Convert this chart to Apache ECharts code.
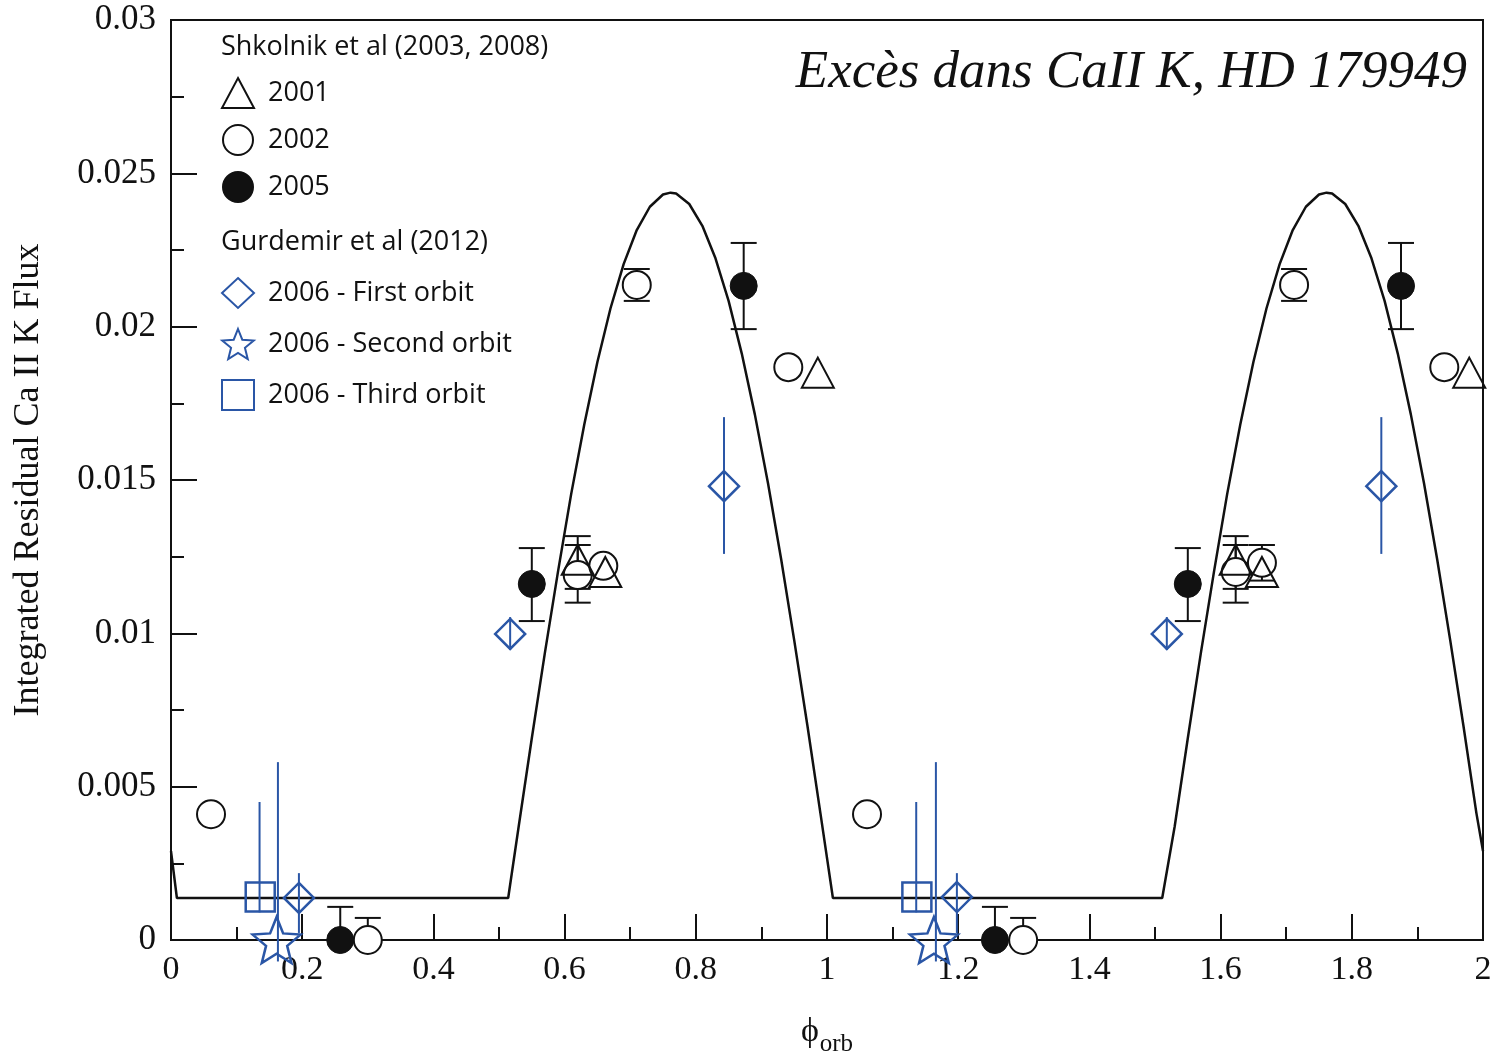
<!DOCTYPE html>
<html><head><meta charset="utf-8">
<script src="https://cdn.jsdelivr.net/npm/echarts@6/dist/echarts.min.js"></script>
<style>html,body{margin:0;padding:0;background:#fff}#c{width:1493px;height:1054px}</style>
</head><body><div id="c"></div>
<script>
// ---- data ----
const yTickValues = [0, 0.005, 0.01, 0.015, 0.02, 0.025, 0.03];
const xTickValues = [0, 0.2, 0.4, 0.6, 0.8, 1, 1.2, 1.4, 1.6, 1.8, 2];

// model curve [phase, flux]
const modelCurve = [
  [0,0.0029],[0.009,0.00137],[0.514,0.00137],
  [0.53,0.0037],[0.55,0.00658],[0.57,0.00937],[0.59,0.01202],[0.61,0.01454],[0.63,0.01681],
  [0.65,0.01885],[0.67,0.0206],[0.69,0.02204],[0.71,0.02315],[0.73,0.02391],[0.75,0.02431],
  [0.7615,0.02437],[0.77,0.02434],[0.79,0.024],[0.81,0.02329],[0.83,0.02223],[0.85,0.02084],
  [0.87,0.01913],[0.89,0.01714],[0.91,0.0149],[0.93,0.01243],[0.95,0.00978],[0.97,0.00701],
  [0.99,0.00413],[1.009,0.00137],[1.511,0.00137],
  [1.53,0.0037],[1.55,0.00658],[1.57,0.00937],[1.59,0.01202],[1.61,0.01454],[1.63,0.01681],
  [1.65,0.01885],[1.67,0.0206],[1.69,0.02204],[1.71,0.02315],[1.73,0.02391],[1.75,0.02431],
  [1.7615,0.02437],[1.77,0.02434],[1.79,0.024],[1.81,0.02329],[1.83,0.02223],[1.85,0.02084],
  [1.87,0.01913],[1.89,0.01714],[1.91,0.0149],[1.93,0.01243],[1.95,0.00978],[1.97,0.00701],
  [1.99,0.00413],[2.0,0.0029]
];

// Shkolnik 2001 (triangles)
const pts2001 = [[0.620,0.0124],[0.662,0.0120],[0.986,0.0185],[1.623,0.0124],[1.663,0.0120],[1.979,0.0185]];
const err2001 = [[0.620,0.01145,0.01317],[1.623,0.01145,0.01317]];
// Shkolnik 2002 (open circles)
const pts2002 = [[0.061,0.0041],[0.300,0],[0.620,0.0119],[0.659,0.0122],[0.710,0.02136],[0.941,0.01868],
                 [1.061,0.0041],[1.299,0],[1.623,0.0120],[1.663,0.0123],[1.712,0.02136],[1.941,0.01868]];
const err2002 = [[0.300,0,0.00072],[0.620,0.0110,0.01288],[0.710,0.02084,0.02188],
                 [1.299,0,0.00072],[1.623,0.0110,0.01288],[1.663,0.01172,0.01288],[1.712,0.02084,0.02188]];
// Shkolnik 2005 (filled circles)
const pts2005 = [[0.258,0],[0.550,0.01161],[0.873,0.02133],[1.256,0],[1.550,0.01161],[1.875,0.02133]];
const err2005 = [[0.258,0,0.00108],[0.550,0.0104,0.01278],[0.873,0.01992,0.02273],
                 [1.256,0,0.00108],[1.550,0.0104,0.01278],[1.875,0.01992,0.02273]];
// Gurdemir 2006 first orbit (diamonds)
const ptsFirst = [[0.195,0.00137],[0.517,0.00998],[0.843,0.0148],[1.198,0.0014],[1.518,0.00998],[1.845,0.0148]];
const errFirst = [[0.195,0.00023,0.00218],[0.517,0.00946,0.01053],[0.843,0.01259,0.01705],
                  [1.198,0.00023,0.00218],[1.518,0.00946,0.01053],[1.845,0.01259,0.01705]];
// Gurdemir 2006 second orbit (stars)
const ptsSecond = [[0.161,0],[1.163,0]];
const errSecond = [[0.163,-0.0007,0.0058],[1.166,-0.0007,0.0058]];
// Gurdemir 2006 third orbit (squares)
const ptsThird = [[0.136,0.0014],[1.137,0.0014]];
const errThird = [[0.135,0.0009,0.0045],[1.136,0.0009,0.0045]];

const seriesNames = ['2001','2002','2005','2006 - First orbit','2006 - Second orbit','2006 - Third orbit'];
const groupTitles = ['Shkolnik et al (2003, 2008)','Gurdemir et al (2012)'];
const chartTitle = 'Excès dans CaII K, HD 179949';

// ---- styling ----
const INK = '#111';
const BLUE = '#2a56a6';
const STAR = 'path://M50 0 L62.93 32.2 L97.55 34.55 L70.92 56.8 L79.39 90.45 L50 72 L20.61 90.45 L29.08 56.8 L2.45 34.55 L37.07 32.2 Z';
const SERIF = '"Liberation Serif", "DejaVu Serif", serif';
const SANS = '"Open Sans", "Noto Sans", sans-serif';

function errSeries(data, color, capW) {
  return {
    type: 'custom', silent: true, clip: false, z: 2,
    data: data,
    encode: { x: 0, y: [1, 2] },
    renderItem: function (params, api) {
      const x = api.value(0), lo = api.value(1), hi = api.value(2);
      const a = api.coord([x, lo]), b = api.coord([x, hi]);
      const st = { stroke: color, lineWidth: 2 };
      const ch = [{ type: 'line', shape: { x1: a[0], y1: a[1], x2: b[0], y2: b[1] }, style: st }];
      if (capW) {
        ch.push({ type: 'line', shape: { x1: a[0]-capW/2, y1: a[1], x2: a[0]+capW/2, y2: a[1] }, style: st });
        ch.push({ type: 'line', shape: { x1: b[0]-capW/2, y1: b[1], x2: b[0]+capW/2, y2: b[1] }, style: st });
      }
      return { type: 'group', children: ch };
    }
  };
}

const legendText = { fontFamily: SANS, fontSize: 27, color: INK, lineHeight: 30, padding: [0, 0, 0, 9] };

const chart = echarts.init(document.getElementById('c'), null, { renderer: 'canvas' });
chart.setOption({
  animation: false,
  backgroundColor: '#fff',
  grid: { left: 171, right: 10, top: 20, bottom: 114, show: true, borderColor: INK, borderWidth: 2,
          containLabel: false, outerBoundsMode: 'none' },
  xAxis: {
    type: 'value', min: 0, max: 2, interval: 0.2,
    axisLine: { lineStyle: { color: INK, width: 2 } },
    axisTick: { inside: true, length: 26, lineStyle: { color: INK, width: 2 } },
    minorTick: { show: true, splitNumber: 2, length: 13, lineStyle: { color: INK, width: 2 } },
    splitLine: { show: false }, minorSplitLine: { show: false },
    axisLabel: { fontFamily: SERIF, fontSize: 34, color: INK, margin: 13,
      formatter: v => { const t = xTickValues.find(t => Math.abs(t - v) < 1e-9); return t === undefined ? '' : String(t); } },
    name: '{a|ϕ}{b|orb}', nameLocation: 'middle', nameGap: 72,
    nameTextStyle: { rich: {
      a: { fontFamily: SERIF, fontSize: 34, color: INK, lineHeight: 40 },
      b: { fontFamily: SERIF, fontSize: 25, color: INK, lineHeight: 40, padding: [24, 0, 0, 1] } } }
  },
  yAxis: {
    type: 'value', min: 0, max: 0.03, interval: 0.005,
    axisLine: { lineStyle: { color: INK, width: 2 } },
    axisTick: { inside: true, length: 26, lineStyle: { color: INK, width: 2 } },
    minorTick: { show: true, splitNumber: 2, length: 13, lineStyle: { color: INK, width: 2 } },
    splitLine: { show: false }, minorSplitLine: { show: false },
    axisLabel: { fontFamily: SERIF, fontSize: 35, color: INK, margin: 15,
      formatter: v => { const t = yTickValues.find(t => Math.abs(t - v) < 1e-9); return t === undefined ? '' : String(t); } },
    name: 'Integrated Residual Ca II K Flux', nameLocation: 'middle', nameGap: 124, nameRotate: 90,
    nameTextStyle: { fontFamily: SERIF, fontSize: 36, color: INK }
  },
  legend: [
    { data: seriesNames.slice(0, 3), orient: 'vertical', left: 221, top: 77, padding: 0,
      itemWidth: 32, itemHeight: 30, itemGap: 15, textStyle: legendText, selectedMode: false },
    { data: seriesNames.slice(3), orient: 'vertical', left: 221, top: 277, padding: 0,
      itemWidth: 32, itemHeight: 30, itemGap: 19, textStyle: legendText, selectedMode: false }
  ],
  graphic: [
    { type: 'text', left: 221, top: 34, style: { text: groupTitles[0], font: '27px ' + SANS, fill: INK } },
    { type: 'text', left: 221, top: 229, style: { text: groupTitles[1], font: '27px ' + SANS, fill: INK } },
    { type: 'text', right: 26, top: 47, style: { text: chartTitle, font: 'italic 53px ' + SERIF, fill: INK } }
  ],
  series: [
    { type: 'line', name: 'model', data: modelCurve, showSymbol: false, silent: true, z: 1,
      lineStyle: { color: INK, width: 2.5 } },
    errSeries(err2001, INK, 26), errSeries(err2002, INK, 26), errSeries(err2005, INK, 26),
    errSeries(errFirst, BLUE, 0), errSeries(errSecond, BLUE, 0), errSeries(errThird, BLUE, 0),
    { type: 'scatter', name: seriesNames[0], data: pts2001, symbol: 'triangle', symbolSize: [32, 30], z: 4,
      itemStyle: { color: 'rgba(255,255,255,0)', borderColor: INK, borderWidth: 2, opacity: 1 } },
    { type: 'scatter', name: seriesNames[1], data: pts2002, symbol: 'circle', symbolSize: 28, z: 3,
      itemStyle: { color: '#fff', borderColor: INK, borderWidth: 2, opacity: 1 } },
    { type: 'scatter', name: seriesNames[2], data: pts2005, symbol: 'circle', symbolSize: 27, z: 3,
      itemStyle: { color: INK, borderColor: INK, borderWidth: 1, opacity: 1 } },
    { type: 'scatter', name: seriesNames[3], data: ptsFirst, symbol: 'diamond', symbolSize: [30, 30], z: 4,
      itemStyle: { color: 'rgba(255,255,255,0)', borderColor: BLUE, borderWidth: 2.5, opacity: 1 } },
    { type: 'scatter', name: seriesNames[4], data: ptsSecond, symbol: STAR, symbolSize: [48, 46], z: 4, clip: false,
      itemStyle: { color: 'rgba(255,255,255,0)', borderColor: BLUE, borderWidth: 2.5, opacity: 1 } },
    { type: 'scatter', name: seriesNames[5], data: ptsThird, symbol: 'rect', symbolSize: 29, z: 4,
      itemStyle: { color: 'rgba(255,255,255,0)', borderColor: BLUE, borderWidth: 2.5, opacity: 1 } }
  ]
});
</script></body></html>
